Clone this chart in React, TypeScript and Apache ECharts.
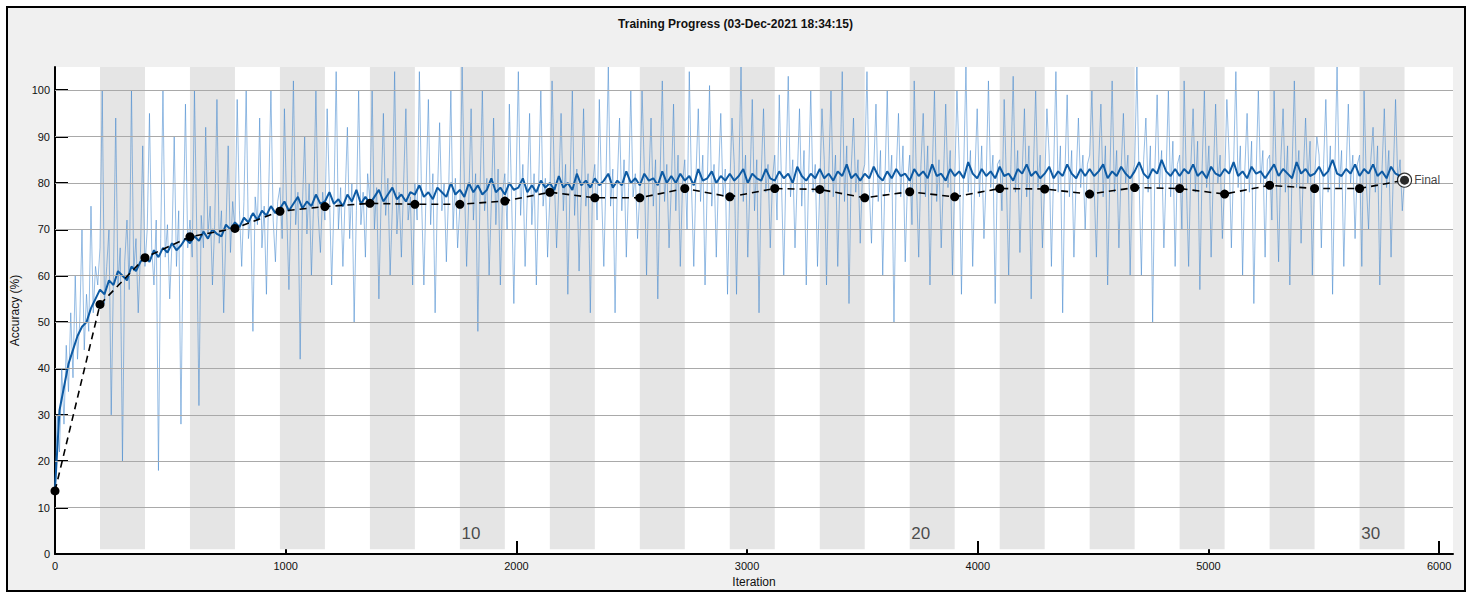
import React, { useEffect, useRef } from "react";
import * as echarts from "echarts";

const ITERS_PER_EPOCH = 195;
const NUM_EPOCHS = 30;
const RAW_STEP = 9.75;
const SMOOTH_STEP = 19.5;
const VAL_STEP = 195;

const xTicks = [0, 1000, 2000, 3000, 4000, 5000, 6000];
const yTicks = [0, 10, 20, 30, 40, 50, 60, 70, 80, 90, 100];
const gridLines = [10, 20, 30, 40, 50, 60, 70, 80, 90, 100];
const epochLabels = [10, 20, 30];

// raw training accuracy, 20 samples per epoch
const rawAccuracy = [
  14, 30, 22, 40, 28, 45, 35, 52, 38, 60, 42, 50, 70, 44, 56, 48, 75, 52, 62, 58,
  66, 100, 54, 62, 70, 30, 60, 94, 58, 66, 20, 63, 72, 57, 100, 61, 68, 52, 65, 88,
  62, 70, 95, 66, 58, 72, 18, 68, 100, 64, 71, 55, 67, 90, 62, 74, 28, 69, 97, 66,
  72, 64, 100, 70, 32, 73, 66, 92, 69, 75, 58, 71, 98, 67, 74, 52, 70, 88, 65, 76,
  70, 98, 74, 62, 76, 100, 68, 73, 48, 77, 71, 94, 66, 75, 56, 78, 100, 72, 63, 76,
  79, 68, 96, 74, 57, 77, 102, 71, 78, 42, 75, 90, 69, 80, 60, 76, 100, 73, 65, 78,
  72, 96, 78, 58, 75, 104, 70, 79, 62, 77, 92, 68, 80, 50, 74, 100, 71, 78, 64, 82,
  76, 100, 70, 79, 55, 77, 95, 73, 81, 60, 75, 104, 69, 78, 64, 80, 96, 72, 77, 58,
  80, 72, 104, 76, 58, 79, 98, 71, 82, 52, 77, 93, 74, 80, 63, 78, 100, 70, 81, 66,
  75, 105, 80, 62, 77, 96, 72, 82, 48, 79, 100, 74, 81, 60, 76, 94, 71, 83, 58, 78,
  82, 70, 97, 77, 54, 80, 104, 73, 84, 62, 78, 95, 71, 82, 58, 79, 100, 75, 81, 64,
  77, 102, 81, 66, 79, 95, 74, 84, 56, 80, 100, 73, 83, 61, 78, 96, 75, 82, 52, 80,
  84, 72, 98, 78, 62, 82, 105, 75, 83, 52, 80, 94, 74, 85, 64, 79, 100, 77, 82, 68,
  78, 100, 83, 60, 80, 94, 75, 85, 55, 81, 102, 76, 84, 66, 79, 97, 74, 86, 62, 80,
  85, 70, 104, 79, 62, 82, 96, 76, 86, 58, 80, 101, 75, 84, 64, 81, 95, 77, 83, 56,
  79, 94, 84, 56, 81, 105, 76, 86, 64, 80, 98, 74, 85, 52, 82, 96, 78, 84, 66, 81,
  86, 72, 99, 80, 60, 83, 103, 77, 85, 66, 81, 96, 75, 87, 58, 80, 100, 78, 84, 62,
  79, 96, 85, 58, 82, 100, 77, 86, 62, 81, 104, 76, 88, 54, 83, 94, 78, 85, 67, 82,
  84, 104, 79, 67, 83, 97, 76, 87, 60, 81, 100, 78, 86, 50, 82, 95, 77, 88, 63, 80,
  86, 71, 102, 80, 64, 84, 95, 77, 88, 58, 82, 100, 76, 85, 66, 81, 97, 79, 87, 60,
  80, 100, 85, 56, 83, 105, 78, 87, 62, 82, 96, 77, 88, 68, 81, 102, 79, 86, 54, 84,
  85, 74, 98, 80, 60, 84, 103, 78, 87, 65, 82, 96, 77, 88, 55, 83, 100, 79, 86, 66,
  80, 96, 86, 62, 83, 104, 78, 88, 52, 82, 99, 77, 87, 64, 81, 94, 79, 86, 70, 84,
  86, 100, 79, 64, 84, 97, 77, 88, 58, 82, 102, 78, 87, 66, 83, 95, 80, 86, 60, 82,
  84, 105, 80, 60, 85, 94, 78, 88, 50, 83, 99, 79, 87, 66, 82, 100, 77, 89, 62, 84,
  86, 70, 102, 80, 62, 84, 96, 78, 89, 57, 83, 100, 79, 88, 64, 82, 97, 80, 86, 68,
  80, 98, 86, 66, 84, 104, 79, 88, 60, 83, 95, 78, 89, 54, 82, 100, 80, 87, 64, 85,
  86, 72, 100, 81, 63, 85, 96, 78, 88, 58, 83, 102, 79, 87, 67, 82, 94, 80, 89, 60,
  81, 90, 86, 66, 84, 98, 78, 88, 56, 83, 105, 79, 87, 62, 82, 97, 80, 86, 68, 84,
  86, 62, 100, 80, 70, 85, 92, 78, 88, 58, 83, 96, 79, 87, 64, 82, 98, 80, 85, 74,
  81,
];

// smoothed training accuracy, 10 samples per epoch
const smoothedAccuracy = [
  14, 31, 36, 41, 44, 47, 49, 50, 53, 55,
  57, 56, 59, 58, 61, 60, 59, 62, 61, 63,
  64, 63, 65.5, 64, 66, 65, 67, 65.5, 66.5, 68,
  67, 68.5, 67.5, 69.5, 68, 70, 69, 68.5, 71, 70,
  71.5, 70.5, 72.5, 71.5, 73.5, 72, 74, 73, 75, 73.5,
  74.5, 76, 74, 75.5, 77, 74.5, 76, 75, 77.5, 75.5,
  76, 78, 75.5, 76.5, 75, 77.5, 76, 78.5, 75.5, 77,
  75.5, 77, 78.5, 76, 77.5, 79, 76.5, 77.5, 76, 78,
  77.5, 79.5, 77, 78, 76.5, 79, 78, 77, 80, 77.5,
  78.5, 77, 80, 78, 79.5, 77.5, 78.5, 81, 78, 79,
  77.5, 80, 78.5, 79, 81, 78, 79.5, 78, 80.5, 79,
  80, 78.5, 81.5, 79, 80, 78.5, 82, 79.5, 80.5, 79,
  81, 79.5, 80.5, 82, 79, 80.5, 79.5, 82.5, 80, 81,
  79.5, 82, 80.5, 81, 79.5, 82.5, 80, 81.5, 80, 82,
  80.5, 81.5, 79.5, 83, 80.5, 81, 82.5, 80, 81.5, 80.5,
  82, 80.5, 81.5, 83, 80, 82, 81, 80.5, 83, 81,
  80.5, 82.5, 81, 82, 80, 83.5, 81.5, 80.5, 82, 81,
  83, 81, 82, 80.5, 82.5, 81.5, 84, 81, 82, 80.5,
  82, 81, 83.5, 81.5, 80.5, 82.5, 81, 83, 81.5, 82,
  80.5, 83, 81.5, 82.5, 81, 84, 81.5, 82, 80.5, 83,
  81.5, 82.5, 81, 84.5, 82, 81, 83, 81.5, 82.5, 81,
  83.5, 81.5, 82, 80.5, 83, 82, 84, 81.5, 82.5, 81,
  82, 83.5, 81, 82.5, 81.5, 84, 82, 81, 83, 81.5,
  83, 81.5, 82.5, 84, 81, 82.5, 81.5, 83.5, 82, 81,
  82.5, 84.5, 82, 81, 83, 82, 85, 82.5, 81.5, 83,
  81.5, 83, 82, 84, 81.5, 82.5, 81, 83.5, 82, 81.5,
  83, 82, 84.5, 81.5, 82.5, 81, 83.5, 82, 82.5, 81,
  82.5, 84, 81.5, 83, 82, 81, 84.5, 82, 83, 81.5,
  82, 83.5, 81.5, 82.5, 85, 82, 81.5, 83, 82, 84,
  81.5, 83, 82, 84, 81.5, 82.5, 81, 83.5, 82, 81.5,
  80.8,
];

// validation accuracy, once per epoch
const validationAccuracy = [
  13.6, 53.8, 63.9, 68.4, 70.2, 73.9, 74.9, 75.6, 75.4, 75.4,
  76.1, 78.0, 76.8, 76.8, 78.8, 77.0, 78.8, 78.6, 76.8, 78.1,
  77.0, 78.8, 78.7, 77.6, 79.0, 78.8, 77.6, 79.5, 78.8, 78.8,
  80.6,
];

const FONT = "'Liberation Sans', Arial, Helvetica, sans-serif";

export default function App() {
  const ref = useRef<HTMLDivElement>(null);

  useEffect(() => {
    document.body.style.margin = "0";
    if (!ref.current) return;
    const chart = echarts.init(ref.current, undefined, { renderer: "svg" });

    const rawData = rawAccuracy.map((v, i) => [i * RAW_STEP, v]);
    const smoothData = smoothedAccuracy.map((v, i) => [i * SMOOTH_STEP, v]);
    const valData = validationAccuracy.map((v, i) => [i * VAL_STEP, v]);
    const finalPoint = valData[valData.length - 1];

    const bands: any[] = [];
    for (let e = 2; e <= NUM_EPOCHS; e += 2) {
      bands.push([
        { xAxis: (e - 1) * ITERS_PER_EPOCH, yAxis: 1 },
        { xAxis: e * ITERS_PER_EPOCH, yAxis: 105 },
      ]);
    }

    const option: any = {
      animation: false,
      backgroundColor: "#ffffff",
      graphic: [
        {
          type: "rect",
          z: -10,
          shape: { x: 7, y: 7, width: 1458, height: 584 },
          style: { fill: "#f0f0f0", stroke: "#000", lineWidth: 2 },
          silent: true,
        },
      ],
      title: {
        text: "Training Progress (03-Dec-2021 18:34:15)",
        left: "center",
        top: 18,
        padding: 0,
        textStyle: { fontSize: 12, fontWeight: "bold", color: "#111", fontFamily: FONT },
      },
      grid: {
        left: 55,
        right: 18,
        top: 67,
        bottom: 39,
        show: true,
        backgroundColor: "#ffffff",
        borderWidth: 0,
      },
      xAxis: {
        type: "value",
        min: 0,
        max: 6060,
        interval: 1000,
        name: "Iteration",
        nameLocation: "middle",
        nameGap: 22,
        nameTextStyle: { fontSize: 12, color: "#111", fontFamily: FONT },
        axisLine: { show: true, onZero: false, lineStyle: { color: "#000", width: 2 } },
        axisTick: { show: true, inside: true, length: 13, customValues: xTicks, lineStyle: { color: "#000", width: 2 } },
        axisLabel: {
          customValues: xTicks,
          formatter: (v: number) => String(v),
          fontSize: 11,
          color: "#111",
          margin: 6,
          fontFamily: FONT,
        },
        splitLine: { show: false },
      },
      yAxis: {
        type: "value",
        min: 0,
        max: 105,
        interval: 10,
        name: "Accuracy (%)",
        nameLocation: "middle",
        nameGap: 30,
        nameTextStyle: { fontSize: 12, color: "#111", fontFamily: FONT },
        axisLine: { show: true, onZero: false, lineStyle: { color: "#000", width: 2 } },
        axisTick: { show: true, inside: true, length: 13, customValues: yTicks, lineStyle: { color: "#000", width: 2 } },
        axisLabel: {
          customValues: yTicks,
          formatter: (v: number) => String(v),
          fontSize: 11,
          color: "#111",
          margin: 5,
          fontFamily: FONT,
        },
        splitLine: { show: false },
      },
      series: [
        {
          type: "line",
          data: [],
          z: 1,
          silent: true,
          markArea: {
            silent: true,
            itemStyle: { color: "#e5e5e5" },
            data: bands,
          },
        },
        {
          type: "line",
          data: [],
          z: 2,
          silent: true,
          markLine: {
            silent: true,
            symbol: ["none", "none"],
            label: { show: false },
            lineStyle: { color: "#a9a9a9", width: 1, type: "solid" },
            data: gridLines.map((v) => ({ yAxis: v })),
          },
        },
        {
          type: "scatter",
          z: 2,
          silent: true,
          symbolSize: 1,
          itemStyle: { color: "transparent" },
          data: epochLabels.map((e) => ({
            name: String(e),
            value: [(e - 1) * ITERS_PER_EPOCH + 7, 4.5],
          })),
          label: {
            show: true,
            position: "inside",
            align: "left",
            verticalAlign: "middle",
            formatter: (p: any) => p.name,
            fontSize: 17,
            color: "#222",
            fontFamily: FONT,
          },
        },
        {
          name: "Training (raw)",
          type: "line",
          z: 3,
          silent: true,
          data: rawData,
          showSymbol: false,
          symbol: "none",
          lineStyle: { color: "rgba(65,135,205,0.55)", width: 1 },
        },
        {
          name: "Training (smoothed)",
          type: "line",
          z: 4,
          silent: true,
          data: smoothData,
          showSymbol: false,
          symbol: "none",
          lineStyle: { color: "#0d5aa3", width: 2 },
        },
        {
          name: "Validation",
          type: "line",
          z: 5,
          silent: true,
          data: valData,
          symbol: "circle",
          symbolSize: 9,
          showSymbol: true,
          itemStyle: { color: "#000" },
          lineStyle: { color: "#000", width: 1.6, type: [7, 5] },
        },
        {
          type: "scatter",
          z: 6,
          silent: true,
          data: [finalPoint],
          symbolSize: 14,
          itemStyle: { color: "#ffffff", borderColor: "#000", borderWidth: 1.2 },
          label: {
            show: true,
            position: "right",
            distance: 2,
            formatter: "Final",
            fontSize: 12,
            color: "#111",
            fontFamily: FONT,
          },
        },
        {
          type: "scatter",
          z: 7,
          silent: true,
          data: [finalPoint],
          symbolSize: 9,
          itemStyle: { color: "#000" },
        },
      ],
    };

    chart.setOption(option);
    return () => chart.dispose();
  }, []);

  return <div ref={ref} style={{ width: 1471, height: 593 }} />;
}
